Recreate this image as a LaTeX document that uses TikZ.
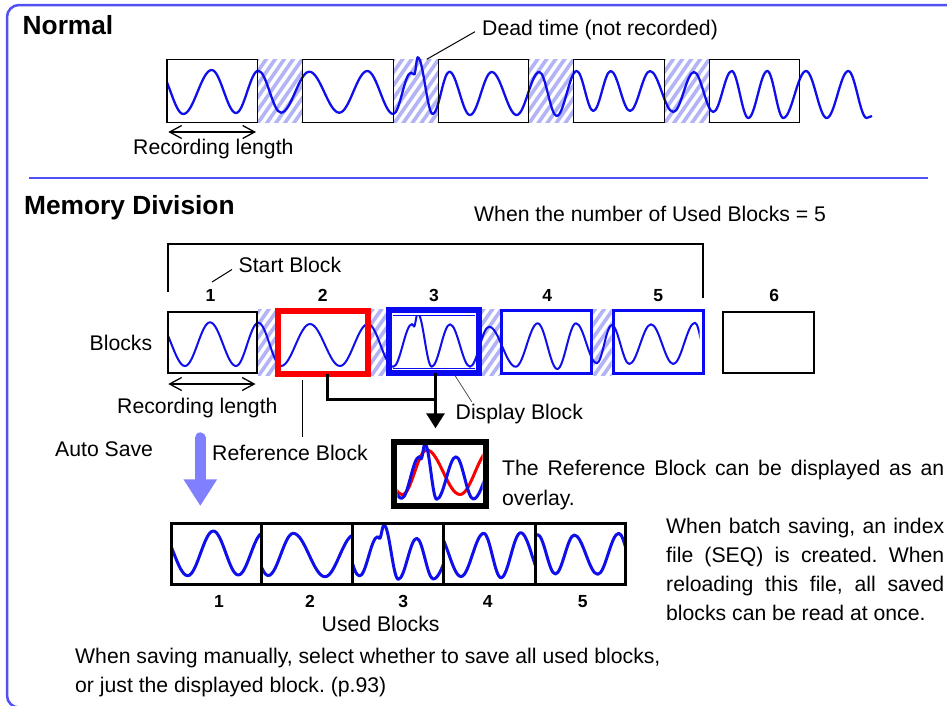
\documentclass[tikz,border=0pt]{standalone}
\usepackage{fontspec}
\setmainfont{Liberation Sans}
\usetikzlibrary{calc,arrows.meta}
\definecolor{framecol}{RGB}{80,80,245}
\definecolor{hatchcol}{RGB}{178,180,245}
\definecolor{wavecol}{RGB}{15,15,235}
\definecolor{bluebox}{RGB}{10,10,240}
\definecolor{redbox}{RGB}{250,0,0}
\definecolor{autocol}{RGB}{128,128,255}
\newcommand\wavedraw[4][]{%
  \draw[#1] (#2,#3) \foreach \x/\y [remember=\x as \lx (initially #2), remember=\y as \ly (initially #3)] in {#4} { cos ({(\lx+\x)/2},{(\ly+\y)/2}) sin (\x,\y) };}
\newcommand\hatchbox[4]{%
  \begin{scope}\clip (#1,#2) rectangle (#3,#4);
  \foreach \k in {0,...,14} \draw[hatchline] ({#1-55+\k*9},{#4+3}) -- ++(50,-72);
  \end{scope}}
\begin{document}
\frenchspacing
\begin{tikzpicture}[x=1pt,y=-1pt,
  txt/.style={font=\fontsize{21.2}{25}\selectfont, inner sep=0pt, anchor=base west},
  ttl/.style={font=\fontsize{26.3}{30}\selectfont\bfseries, inner sep=0pt, anchor=base west},
  num/.style={font=\fontsize{17.5}{20}\selectfont\bfseries, inner sep=0pt, anchor=base},
  hatchline/.style={draw=hatchcol, line width=3.6pt},
  box/.style={draw, inner sep=0pt, outer sep=0pt, fill=none},
  normwave/.style={draw=wavecol, line width=2.3pt, line join=round},
  memwave/.style={draw=wavecol, line width=2pt, line join=round},
  usedwave/.style={draw=wavecol, line width=3pt, line join=round},
  redwave/.style={draw=redbox, line width=3pt, line join=round},
  leader/.style={draw=black, line width=1pt},
  conn/.style={draw=black, line width=3pt},
  reclen/.style={draw=black, line width=2pt, {Straight Barb[length=12pt,width=13pt,line width=1.3pt]}-{Straight Barb[length=12pt,width=13pt,line width=1.3pt]}},
  autoarrow/.style={draw=autocol, line width=10.7pt, line cap=round, -{Triangle[width=31.7pt,length=26.7pt]}}
]
\useasboundingbox (0,0) rectangle (947,705);
\clip (0,0) rectangle (947,705);
% frame and separator
\draw[framecol, line width=2.5pt, rounded corners=12pt] (7,5) rectangle (1000,707.5);
\coordinate (sepL) at (29.3,178); \coordinate (sepR) at (928,178);
\draw[framecol, line width=2pt] (sepL) -- (sepR);

% ===== Normal =====
\node[ttl] (tNormal) at (22.5,34) {Normal};
\hatchbox{257.3}{59.3}{302.3}{122.3}
\hatchbox{393.7}{59.3}{438.3}{122.3}
\hatchbox{528.7}{59.3}{573.3}{122.3}
\hatchbox{664.3}{59.3}{709.3}{122.3}
\begin{scope}
\clip (166.5,40) rectangle (880,135);
\wavedraw[normwave]{158}{70}{183.3/114, 211.7/70, 236/113, 258.3/70.7, 281/112.7, 309.3/71.7, 339.3/112.7, 367.3/71, 393.3/114, 411/72.7, 414.3/74.5, 417.7/57.3, 432.7/114, 449.3/71.7, 470/115, 491.7/72, 516.7/115, 539.3/72, 556.7/116, 576.7/71, 593.3/111, 610.7/71, 630/111, 650/71, 673.3/112, 694/72, 713.3/112, 731.7/71, 748.3/118, 767.3/71, 783.3/118, 806/71, 826.7/118, 848.3/71, 866.7/118, 872/116}
\end{scope}
\node[box, line width=1.3pt, minimum width=90.3pt, minimum height=63pt] (N1) at (212.2,90.8) {};
\node[box, line width=1.3pt, minimum width=91.4pt, minimum height=63pt] (N2) at (348,90.8) {};
\node[box, line width=1.3pt, minimum width=90.4pt, minimum height=63pt] (N3) at (483.5,90.8) {};
\node[box, line width=1.3pt, minimum width=91pt, minimum height=63pt] (N4) at (618.8,90.8) {};
\node[box, line width=1.3pt, minimum width=90pt, minimum height=63pt] (N5) at (754.3,90.8) {};
\node[txt] (tDead) at (482,35.5) {Dead time (not recorded)};
\coordinate (dtA) at (426.7,59.3); \coordinate (dtB) at (475,31.7);
\draw[leader] (dtA) -- (dtB);
\coordinate (rl1a) at (168.3,132); \coordinate (rl1b) at (256,132);
\draw[reclen] (rl1a) -- (rl1b);
\node[txt] (tRL1) at (133,154) {Recording length};

% ===== Memory Division =====
\node[ttl] (tMem) at (24,214) {Memory Division};
\node[txt] (tWhen) at (474,221) {When the number of Used Blocks = 5};
\coordinate (brA) at (167.7,291.7); \coordinate (brB) at (167.7,243.5);
\coordinate (brC) at (703.3,243.5); \coordinate (brD) at (703.3,298.3);
\draw[line width=2pt] (brA) -- (brB) -- (brC) -- (brD);
\node[txt] (tStart) at (238.5,272.7) {Start Block};
\coordinate (sbA) at (212,282); \coordinate (sbB) at (232,269.5);
\draw[leader] (sbA) -- (sbB);
\node[num] (n1) at (210.5,301.7) {1};
\node[num] (n2) at (322.7,301.7) {2};
\node[num] (n3) at (434,301.7) {3};
\node[num] (n4) at (547.3,301.7) {4};
\node[num] (n5) at (658.3,301.7) {5};
\node[num] (n6) at (774.3,301.7) {6};
\node[txt] (tBlocks) at (89.5,350) {Blocks};

\hatchbox{258}{309}{275.3}{375}
\hatchbox{370.7}{309}{386}{375}
\hatchbox{481.7}{309}{500}{375}
\hatchbox{593.3}{309}{611.7}{375}
\begin{scope}
\clip (167.5,300) rectangle (699.5,385);
\wavedraw[memwave]{158}{322.5}{185/366, 210/322.3, 236/366, 258.3/322.7, 281/366, 310/324, 340/366, 368/324, 393.3/366.7, 412/324, 414/326.5, 417.7/313.3, 431.7/366.7, 450/324.3, 470/366.7, 489/326.7, 515.7/366.7, 537.7/323.3, 557.3/369, 576/323.3, 596.7/363.3, 611.7/325, 629.3/364, 651/324.3, 673.3/364, 695/322.7, 708/364}
\end{scope}
\node[box, line width=2pt, minimum width=89.3pt, minimum height=61.3pt] (M1) at (212.3,342.3) {};
\node[box, draw=redbox, line width=6pt, minimum width=89.4pt, minimum height=62.7pt] (M2) at (323,342.35) {};
\node[box, draw=bluebox, line width=6.3pt, minimum width=89.5pt, minimum height=62.7pt] (M3) at (433.95,341.65) {};
\draw[white, line width=1.2pt] (392.6,313.9) -- (475.4,313.9);
\draw[bluebox, line width=1pt] (392.6,315.2) -- (475.4,315.2);
\draw[white, line width=1.2pt] (392.6,369.4) -- (475.4,369.4);
\draw[bluebox, line width=1pt] (392.6,368.2) -- (475.4,368.2);
\node[box, draw=bluebox, line width=3pt, minimum width=90.3pt, minimum height=63pt] (M4) at (546.65,342) {};
\node[box, draw=bluebox, line width=3pt, minimum width=90.3pt, minimum height=63pt] (M5) at (658.35,342) {};
\node[box, line width=2pt, minimum width=90.7pt, minimum height=61.3pt] (M6) at (768.65,342.35) {};

\coordinate (rl2a) at (168.3,384); \coordinate (rl2b) at (255.5,384);
\draw[reclen] (rl2a) -- (rl2b);
\node[txt] (tRL2) at (117,413.3) {Recording length};

% connectors to overlay
\coordinate (refc) at (327.7,399.3);
\coordinate (dj) at (435.5,399.3);
\coordinate (dtip) at (435.5,428.3);
\draw[conn] (M2.south -| refc) -- (refc) -- (dj);
\draw[conn, -{Triangle[width=18pt,length=15pt]}] (M3.south -| dtip) -- (dtip);
\coordinate (dbA) at (455,375.5); \coordinate (dbB) at (471.7,401.7);
\draw[draw=black!75, line width=0.7pt] (dbA) -- (dbB);
\node[txt] (tDisp) at (455.5,419.3) {Display Block};
\coordinate (rbA) at (302.3,380); \coordinate (rbB) at (302.3,436.7);
\draw[leader] (rbA) -- (rbB);
\node[txt] (tRef) at (212,460.7) {Reference Block};

% overlay box
\begin{scope}
\clip (397.3,445.3) rectangle (482.7,502.7);
\wavedraw[redwave]{372}{450}{402.5/494.5, 426.7/450, 460/494.5, 490/450}
\wavedraw[usedwave]{378}{456}{401.7/498.3, 419.3/456.7, 421/459, 425/444, 436.7/499.3, 456/456.7, 473.3/499, 497/457}
\end{scope}
\node[box, line width=6.3pt, minimum width=91.7pt, minimum height=63.7pt] (OV) at (440,474) {};
\node[txt] (tOv1) at (502,475.7) {\makebox[442pt][s]{The Reference Block can be displayed as an}};
\node[txt] (tOv2) at (502,505) {overlay.};

% auto save
\node[txt] (tAuto) at (55,456.7) {Auto Save};
\coordinate (asTop) at (200.3,437.7); \coordinate (asTip) at (200.3,506);
\draw[autoarrow] (asTop) -- (asTip);

% used blocks
\begin{scope}\clip (171.7,523.1) rectangle (261.7,584.3);
\wavedraw[usedwave]{160}{531}{187.7/575.7, 213.3/531, 238.3/575, 263/533}
\end{scope}
\begin{scope}\clip (261.7,523.1) rectangle (352.7,584.3);
\wavedraw[usedwave]{245}{533}{268.3/575.5, 293.3/533.3, 325/576.7, 354/535}
\end{scope}
\begin{scope}\clip (352.7,523.1) rectangle (443.3,584.3);
\wavedraw[usedwave]{340}{533}{359.5/576, 377.7/536.7, 379.5/538.5, 384/525, 398.3/579.3, 416.7/538.3, 433.3/579, 458/538}
\end{scope}
\begin{scope}\clip (443.3,523.1) rectangle (535.3,584.3);
\wavedraw[usedwave]{437}{533}{461/576.5, 483.7/533.3, 501/577.7, 520.7/532.7, 543/577}
\end{scope}
\begin{scope}\clip (535.3,523.1) rectangle (625,584.3);
\wavedraw[usedwave]{520}{574}{537.5/534.5, 555.3/574, 574.3/535, 597.7/574.3, 618.7/533.3, 636/574}
\end{scope}
\node[box, line width=3pt, minimum width=90pt, minimum height=61.2pt] (U1) at (216.7,553.7) {};
\node[box, line width=3pt, minimum width=91pt, minimum height=61.2pt] (U2) at (307.2,553.7) {};
\node[box, line width=3pt, minimum width=90.6pt, minimum height=61.2pt] (U3) at (398,553.7) {};
\node[box, line width=3pt, minimum width=92pt, minimum height=61.2pt] (U4) at (489.3,553.7) {};
\node[box, line width=3pt, minimum width=89.7pt, minimum height=61.2pt] (U5) at (580.15,553.7) {};
\node[num] (u1) at (219,607.7) {1};
\node[num] (u2) at (310,607.7) {2};
\node[num] (u3) at (403.3,607.7) {3};
\node[num] (u4) at (487.7,607.7) {4};
\node[num] (u5) at (582.7,607.7) {5};
\node[txt] (tUsed) at (321.5,631) {Used Blocks};

% batch text
\node[txt] (tB1) at (666,533.3) {\makebox[278pt][s]{When batch saving, an index}};
\node[txt] (tB2) at (666,562.5) {\makebox[278pt][s]{file (SEQ) is created. When}};
\node[txt] (tB3) at (666,591.5) {\makebox[278pt][s]{reloading this file, all saved}};
\node[txt] (tB4) at (666,620.7) {blocks can be read at once.};

% manual text
\node[txt] (tM1) at (75,663.3) {When saving manually, select whether to save all used blocks,};
\node[txt] (tM2) at (75,692.7) {or just the displayed block. (p.93)};
\end{tikzpicture}
\end{document}
